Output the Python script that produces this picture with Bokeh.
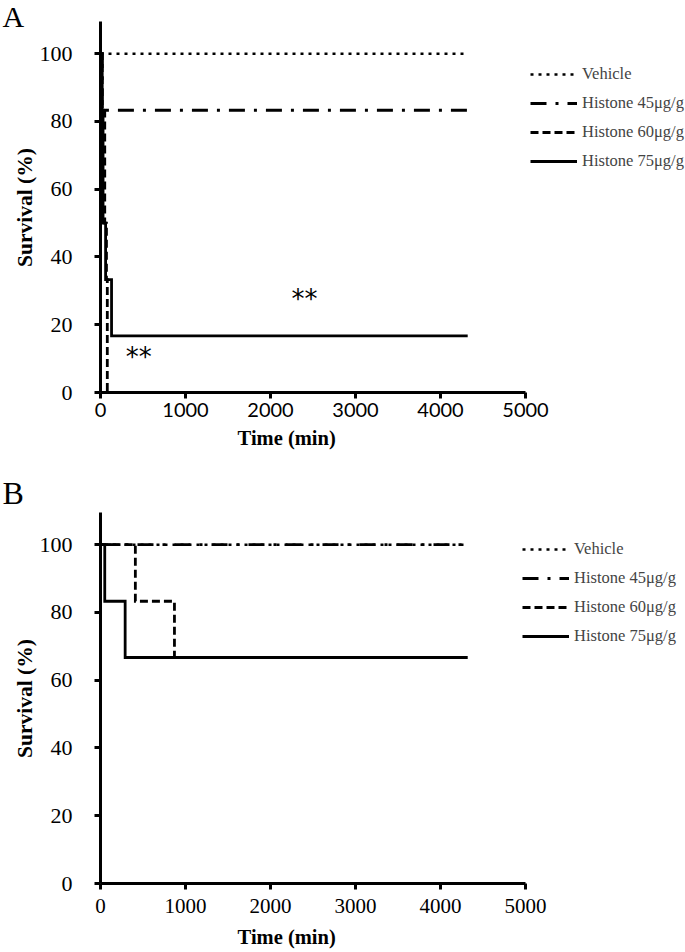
import math
from bokeh.plotting import figure
from bokeh.models import Legend, LegendItem, Label, FixedTicker, Range1d
from bokeh.layouts import column
from bokeh.embed import file_html
from bokeh.resources import INLINE

# ---------------- data (time in min, survival in %) ----------------
a_vehicle_t = [0, 4320]
a_vehicle_s = [100, 100]
a_h45_t = [0, 20, 20, 4320]
a_h45_s = [100, 100, 83.3, 83.3]
a_h60_t = [0, 20, 20, 50, 50, 70, 70, 80, 80]
a_h60_s = [100, 100, 83.3, 83.3, 50, 50, 33.3, 33.3, 0]
a_h75_t = [0, 20, 20, 30, 30, 60, 60, 130, 130, 4320]
a_h75_s = [100, 100, 83.3, 83.3, 50, 50, 33.3, 33.3, 16.7, 16.7]

b_vehicle_t = [0, 4320]
b_vehicle_s = [100, 100]
b_h45_t = [0, 4320]
b_h45_s = [100, 100]
b_h60_t = [0, 410, 410, 870, 870, 4320]
b_h60_s = [100, 100, 83.3, 83.3, 66.7, 66.7]
b_h75_t = [0, 50, 50, 290, 290, 4320]
b_h75_s = [100, 100, 83.3, 83.3, 66.7, 66.7]

x_ticks = [0, 1000, 2000, 3000, 4000, 5000]
y_ticks = [0, 20, 40, 60, 80, 100]
labels = ["Vehicle", "Histone 45\u03bcg/g", "Histone 60\u03bcg/g", "Histone 75\u03bcg/g"]

SERIF = "Liberation Serif"
W = 685
PX_PER_MIN = 0.085        # horizontal scale
FRAME_H = 371             # px between y=0 and y=109.5
PX_PER_PCT = FRAME_H / 109.5
LEFT = 100                # x=0 position (px from left)


def make_panel(letter, height, top, series, legend_xy, xtick_font, xtick_size,
               xtick_standoff, xlabel_dy, letter_dy, letter_size, stars):
    bottom_px = height - top - FRAME_H
    x0 = -LEFT / PX_PER_MIN
    x1 = (W - LEFT) / PX_PER_MIN
    y1 = 109.5 + top / PX_PER_PCT
    y0 = -bottom_px / PX_PER_PCT
    p = figure(width=W, height=height, output_backend="svg", toolbar_location=None,
               x_range=Range1d(x0, x1), y_range=Range1d(y0, y1),
               min_border=0, min_border_left=0, min_border_right=0,
               min_border_top=0, min_border_bottom=0)
    p.outline_line_color = None
    p.grid.visible = False
    p.background_fill_color = "white"

    styles = [
        dict(line_dash="3 5", line_width=2.5),
        dict(line_dash="16 9 3 9", line_width=2.8),
        dict(line_dash="8 4", line_width=2.8),
        dict(line_dash="solid", line_width=2.8),
    ]
    items = []
    for (t, s), lab, st in zip(series, labels, styles):
        r = p.line(t, s, line_color="black", line_join="miter", **st)
        items.append(LegendItem(label=lab, renderers=[r]))

    for ax in (p.xaxis[0], p.yaxis[0]):
        ax.fixed_location = 0
        ax.axis_line_width = 3
        ax.major_tick_line_width = 3
        ax.major_tick_out = 6
        ax.major_tick_in = 0
        ax.minor_tick_line_color = None
        ax.major_label_text_color = "black"

    p.xaxis.ticker = FixedTicker(ticks=x_ticks)
    p.xaxis.bounds = (0, 5000)
    p.xaxis.major_label_text_font = xtick_font
    p.xaxis.major_label_text_font_size = xtick_size
    p.xaxis.major_label_standoff = xtick_standoff

    p.yaxis.ticker = FixedTicker(ticks=y_ticks)
    p.yaxis.bounds = (0, 109.5)
    p.yaxis.major_label_text_font = SERIF
    p.yaxis.major_label_text_font_size = "22px"
    p.yaxis.major_label_standoff = 22

    # axis titles
    p.add_layout(Label(x=2190, y=-xlabel_dy / PX_PER_PCT, text="Time (min)",
                       text_font=SERIF, text_font_style="bold", text_font_size="20.5px",
                       text_color="black", text_align="center", text_baseline="middle"))
    p.add_layout(Label(x=-76 / PX_PER_MIN, y=54.6, text="Survival (%)", angle=math.pi / 2,
                       text_font=SERIF, text_font_style="bold", text_font_size="21.5px",
                       text_color="black", text_align="center", text_baseline="middle"))
    # panel letter
    p.add_layout(Label(x=-98 / PX_PER_MIN, y=letter_dy / PX_PER_PCT, text=letter,
                       text_font=SERIF, text_font_size=letter_size, text_color="black",
                       text_baseline="alphabetic"))

    leg = Legend(items=items, location=legend_xy, orientation="vertical",
                 glyph_width=47, glyph_height=20, label_height=20, spacing=9,
                 padding=0, margin=0, label_standoff=5,
                 label_text_font=SERIF, label_text_font_size="16.5px",
                 border_line_color=None, background_fill_alpha=0)
    p.add_layout(leg, "center")

    for (sx, sy) in stars:
        p.add_layout(Label(x=sx, y=sy, text="**", text_font="DejaVu Sans",
                           text_font_size="26px", text_color="black",
                           text_align="center", text_baseline="middle"))
    return p


# panel A: figure rows 0..474, y axis top at 21 px, x axis at 392 px
pa = make_panel("A", 474, 21,
                [(a_vehicle_t, a_vehicle_s), (a_h45_t, a_h45_s),
                 (a_h60_t, a_h60_s), (a_h75_t, a_h75_s)],
                (530, 303), "Lato", "20px", 4, 45, 376.5, "30px",
                [(2400, 27.5), (450, 10.5)])
# panel B: figure rows 474..952, y axis top at 512 px, x axis at 883 px
pb = make_panel("B", 478, 38,
                [(b_vehicle_t, b_vehicle_s), (b_h45_t, b_h45_s),
                 (b_h60_t, b_h60_s), (b_h75_t, b_h75_s)],
                (522, 306), SERIF, "21px", 9, 53, 391, "32px", [])

layout = column(pa, pb, spacing=0)
open("out.html", "w").write(file_html(layout, INLINE))
